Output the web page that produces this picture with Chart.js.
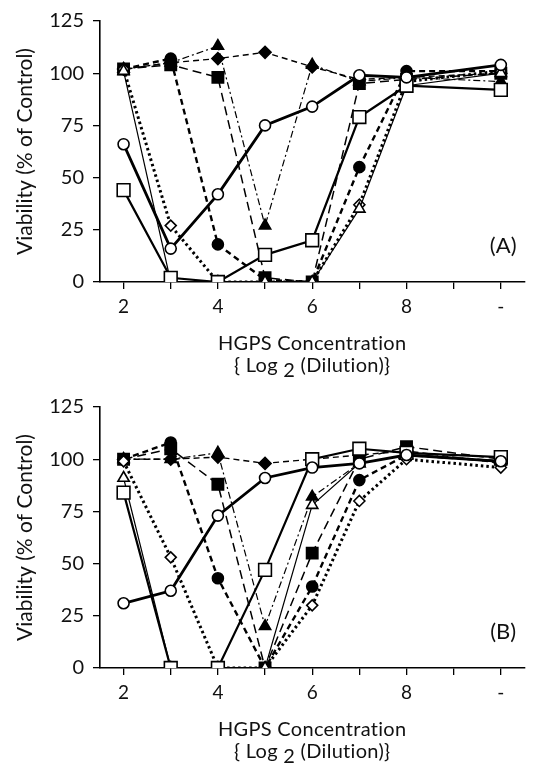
<!DOCTYPE html>
<html>
<head>
<meta charset="utf-8">
<script src="https://cdn.jsdelivr.net/npm/chart.js@4.4.0/dist/chart.umd.min.js"></script>
<style>
  html, body { margin: 0; padding: 0; background: #fff; }
  canvas { display: block; }
</style>
</head>
<body>
<canvas id="chartA" width="535" height="386"></canvas>
<canvas id="chartB" width="535" height="386"></canvas>
<script>
// x = log2 of the dilution; "-" (no HGPS) sits at 10
const dilutions = [2, 3, 4, 5, 6, 7, 8, 10];
const xTickValues = [2, 3, 4, 5, 6, 7, 8, 9, 10];
const xTickLabels = ['2', '', '4', '', '6', '', '8', '', '-'];
const yTickLabels = ['0', '25', '50', '75', '100', '125'];

// Panel (A) viability, % of control
const aOpenCircle    = [66, 16, 42, 75, 84, 99, 98, 104];
const aOpenSquare    = [44, 2, 0, 13, 20, 79, 94, 92];
const aOpenTriangle  = [101, 0, 0, 0, 0, 35, 94, 100];
const aOpenDiamond   = [102, 27, 0, 0, 0, 37, 96, 101];
const aFilledCircle  = [102, 107, 18, 1, 0, 55, 101, 101];
const aFilledSquare  = [102, 104, 98, 2, 0, 95, 97, 100];
const aFilledTriangle= [102, 105, 113, 27, 104, 96, 98, 96];
const aFilledDiamond = [102, 105, 107, 110, 103, 97, 98, 100];

// Panel (B)
const bOpenCircle    = [31, 37, 73, 91, 96, 98, 102, 99];
const bOpenSquare    = [84, 0, 0, 47, 100, 105, 103, 101];
const bOpenTriangle  = [91, 0, 0, 0, 78, 98, 102, 99];
const bOpenDiamond   = [99, 53, 0, 0, 30, 80, 100, 96];
const bFilledCircle  = [100, 108, 43, 0, 39, 90, 102, 99];
const bFilledSquare  = [100, 105, 88, 0, 55, 100, 106, 100];
const bFilledTriangle= [100, 100, 103, 20, 82, 98, 102, 99];
const bFilledDiamond = [100, 100, 101, 98, 100, 102, 104, 98];

const FONT = 'Lato';

// line and marker look for each series
function seriesStyle(kind) {
  const s = {
    openCircle:     { pointStyle: 'circle',   pointRadius: 5.5, fill: '#fff', width: 2.8, dash: [] },
    openSquare:     { pointStyle: 'rect',     pointRadius: 9,   fill: '#fff', width: 2.2, dash: [] },
    openTriangle:   { pointStyle: 'triangle', pointRadius: 6.5, fill: '#fff', width: 1.2, dash: [] },
    openDiamond:    { pointStyle: 'rectRot',  pointRadius: 5.5, fill: '#fff', width: 3,   dash: [2.5, 3] },
    filledCircle:   { pointStyle: 'circle',   pointRadius: 5.5, fill: '#000', width: 2.4, dash: [6, 4] },
    filledSquare:   { pointStyle: 'rect',     pointRadius: 8,   fill: '#000', width: 1.5, dash: [9, 5] },
    filledTriangle: { pointStyle: 'triangle', pointRadius: 6.5, fill: '#000', width: 1.2, dash: [7, 3, 2, 3] },
    filledDiamond:  { pointStyle: 'rectRot',  pointRadius: 6,   fill: '#000', width: 1.4, dash: [6, 4] }
  }[kind];
  return s;
}

function makeDataset(label, values, kind) {
  const s = seriesStyle(kind);
  return {
    label: label,
    data: values.map((v, i) => ({ x: dilutions[i], y: v })),
    borderColor: '#000',
    borderWidth: s.width,
    borderDash: s.dash,
    pointStyle: s.pointStyle,
    pointRadius: s.pointRadius,
    pointHoverRadius: s.pointRadius,
    pointBackgroundColor: s.fill,
    pointBorderColor: '#000',
    pointBorderWidth: 1.6,
    tension: 0,
    fill: false
  };
}

// panel letter and the two-line x title (with subscript 2)
const extrasPlugin = {
  id: 'extras',
  afterDraw(chart, args, opts) {
    const ctx = chart.ctx;
    const area = chart.chartArea;
    const xs = chart.scales.x;
    const ys = chart.scales.y;
    ctx.save();
    ctx.fillStyle = '#111';
    ctx.textBaseline = 'middle';
    ctx.textAlign = 'center';
    ctx.font = '22px ' + FONT;
    ctx.fillText(opts.letter, xs.getPixelForValue(10.05), ys.getPixelForValue(17.5));

    ctx.textBaseline = 'alphabetic';
    ctx.font = '20px ' + FONT;
    ctx.letterSpacing = '0.3px';
    const cx = (area.left + area.right) / 2;
    ctx.fillText('HGPS Concentration', cx, area.bottom + 68);

    const p1 = '{ Log ', p2 = '2', p3 = ' (Dilution)}';
    const w = ctx.measureText(p1 + p2 + p3).width;
    let x = cx - w / 2;
    ctx.textAlign = 'left';
    ctx.fillText(p1, x, area.bottom + 90);
    x += ctx.measureText(p1).width;
    ctx.fillText(p2, x, area.bottom + 95);
    x += ctx.measureText(p2).width;
    ctx.fillText(p3, x, area.bottom + 90);
    ctx.restore();
  }
};

function makeChart(id, letter, datasets) {
  return new Chart(document.getElementById(id).getContext('2d'), {
    type: 'line',
    data: { datasets: datasets },
    options: {
      responsive: false,
      animation: false,
      layout: { padding: { top: 15, right: 5, left: 0, bottom: 0 } },
      plugins: {
        legend: { display: false },
        tooltip: { enabled: false },
        extras: { letter: letter }
      },
      scales: {
        x: {
          type: 'linear',
          min: 1.5,
          max: 10.5,
          afterBuildTicks: (scale) => {
            scale.ticks = xTickValues.map(v => ({ value: v }));
          },
          afterFit: (scale) => { scale.height = 104; },
          grid: { drawOnChartArea: false, drawTicks: true, tickLength: 7, color: '#000', lineWidth: 1.3 },
          border: { display: true, color: '#000', width: 1.6 },
          ticks: {
            autoSkip: false,
            maxRotation: 0,
            padding: 6,
            color: '#111',
            font: { family: FONT, size: 19 },
            callback: (v) => xTickLabels[xTickValues.indexOf(v)]
          }
        },
        y: {
          min: 0,
          max: 125,
          afterFit: (scale) => { scale.width = 100; },
          grid: { drawOnChartArea: false, drawTicks: true, tickLength: 7, color: '#000', lineWidth: 1.3 },
          border: { display: true, color: '#000', width: 1.6 },
          title: {
            display: true,
            text: 'Viability (% of Control)',
            color: '#111',
            font: { family: FONT, size: 21 },
            padding: { top: 13 }
          },
          ticks: {
            stepSize: 12.5,
            padding: 9,
            color: '#111',
            font: { family: FONT, size: 20 },
            callback: (v) => (v % 25 === 0 ? yTickLabels[v / 25] : '')
          }
        }
      }
    },
    plugins: [extrasPlugin]
  });
}

const chartA = makeChart('chartA', '(A)', [
  makeDataset('open circle', aOpenCircle, 'openCircle'),
  makeDataset('open square', aOpenSquare, 'openSquare'),
  makeDataset('open triangle', aOpenTriangle, 'openTriangle'),
  makeDataset('open diamond', aOpenDiamond, 'openDiamond'),
  makeDataset('filled circle', aFilledCircle, 'filledCircle'),
  makeDataset('filled square', aFilledSquare, 'filledSquare'),
  makeDataset('filled triangle', aFilledTriangle, 'filledTriangle'),
  makeDataset('filled diamond', aFilledDiamond, 'filledDiamond')
]);

const chartB = makeChart('chartB', '(B)', [
  makeDataset('open circle', bOpenCircle, 'openCircle'),
  makeDataset('open square', bOpenSquare, 'openSquare'),
  makeDataset('open triangle', bOpenTriangle, 'openTriangle'),
  makeDataset('open diamond', bOpenDiamond, 'openDiamond'),
  makeDataset('filled circle', bFilledCircle, 'filledCircle'),
  makeDataset('filled square', bFilledSquare, 'filledSquare'),
  makeDataset('filled triangle', bFilledTriangle, 'filledTriangle'),
  makeDataset('filled diamond', bFilledDiamond, 'filledDiamond')
]);
</script>
</body>
</html>
